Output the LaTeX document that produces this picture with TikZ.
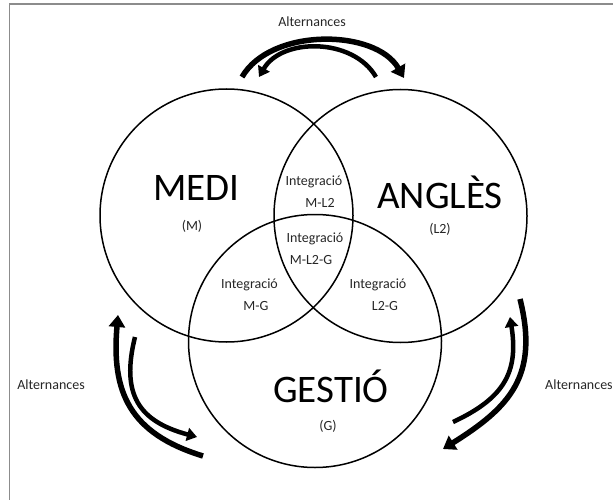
\documentclass[tikz,border=0pt]{standalone}
\usepackage{fontspec}
\setmainfont{Carlito}
\usetikzlibrary{arrows.meta}
\tikzstyle{venn} = [circle, draw, line width=1.5pt, minimum size=253pt, inner sep=0pt]
\tikzstyle{title} = [font=\fontsize{39}{39}\selectfont, anchor=base, inner sep=0pt]
\tikzstyle{txt} = [font=\fontsize{14}{14}\selectfont, text=black!85, anchor=base, inner sep=0pt]
\tikzstyle{boxline} = [draw=black!45, line width=1.5pt]
\tikzstyle{alt} = [draw, line width=5.5pt, -{Triangle[length=12pt, width=16pt]}]
\tikzstyle{altin} = [draw, line width=4.5pt, -{Triangle[length=10pt, width=13pt]}]

\begin{document}
\begin{tikzpicture}[x=1pt, y=1pt]
\useasboundingbox (0,0) rectangle (613,499);
% Frame
\draw [boxline] (9.5,-5) -- (9.5,495) -- (620,495);
% Circles
\node [venn] (medi) at (226.5,283.5) {};
\node [venn] (angles) at (400.5,283) {};
\node [venn] (gestio) at (315,158) {};
% Names
\node [title] (tmedi) at (196.5,299) {MEDI};
\node [title] (tangles) at (440,291) {ANGLÈS};
\node [title] (tgestio) at (331,97) {GESTIÓ};
\node [txt] (sm) at (192,269) {(M)};
\node [txt] (sl) at (440,266) {(L2)};
\node [txt] (sg) at (328,69) {(G)};
% Integrations
\node [txt] (iml) at (314,313) {Integració};
\node [txt] (imlb) at (320,292) {M-L2};
\node [txt] (imlg) at (315,257) {Integració};
\node [txt] (imlgb) at (311,235) {M-L2-G};
\node [txt] (img) at (249.5,211) {Integració};
\node [txt] (imgb) at (256,189) {M-G};
\node [txt] (ilg) at (378,211) {Integració};
\node [txt] (ilgb) at (385,189) {L2-G};
% Alternances
\node [txt] (alttop) at (312,472) {Alternances};
\node [txt] (altleft) at (51,110) {Alternances};
\node [txt, anchor=base west] (altright) at (545,110) {Alternances};
% Arrow ends
\coordinate (topa) at (242,422);
\coordinate (topb) at (404,421);
\coordinate (topc) at (376,422);
\coordinate (topd) at (259,422);
\coordinate (lefta) at (203,43);
\coordinate (leftb) at (118,184);
\coordinate (leftc) at (135,162);
\coordinate (leftd) at (197,62);
\coordinate (righta) at (520,200);
\coordinate (rightb) at (443,50);
\coordinate (rightc) at (453,77);
\coordinate (rightd) at (510,182);
% Draw arrows
\path [alt] (topa) to [out=60, in=120, looseness=0.9] (topb);
\path [altin] (topc) to [out=120, in=60] (topd);
\path [alt] (lefta) to [out=163, in=-95, looseness=1.2] (leftb);
\path [altin] (leftc) to [out=-104, in=165, looseness=1.3] (leftd);
\path [alt] (righta) to [out=-76, in=32, looseness=1.2] (rightb);
\path [altin] (rightc) to [out=25, in=-81, looseness=1.2] (rightd);
\end{tikzpicture}
\end{document}
